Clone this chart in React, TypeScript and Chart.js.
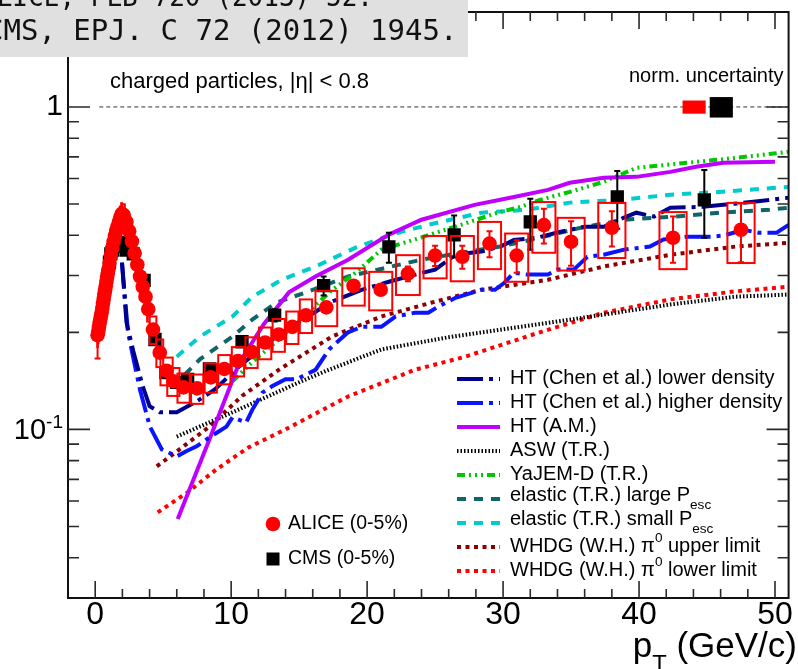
import React, { useEffect, useRef } from "react";
import { Chart, registerables } from "chart.js";

Chart.register(...registerables);

// ---------- axis ranges ----------
const X_MIN = -2;
const X_MAX = 51;
const Y_MIN = 0.03;
const Y_MAX = 1.97;

const xTickLabels = [0, 10, 20, 30, 40, 50];

// ---------- ALICE charged particles, 0-5% ----------
const alicePt = [
  0.175, 0.225, 0.275, 0.325, 0.375, 0.425, 0.475, 0.525, 0.575, 0.625, 0.675, 0.725, 0.775, 0.825, 0.875,
  0.925, 0.975, 1.05, 1.15, 1.25, 1.35, 1.45, 1.55, 1.65, 1.75, 1.85, 1.95, 2.1, 2.3, 2.5, 2.7, 2.9, 3.1,
  3.3, 3.5, 3.7, 3.9, 4.25, 4.75, 5.25, 5.75, 6.5, 7.5, 8.5, 9.5, 10.5, 11.5, 12.5, 13.5, 14.5, 15.5, 17,
  19, 21, 23, 25, 27, 29, 31, 33, 35, 38, 42.5, 47.5,
];
const aliceRaa = [
  0.196, 0.201, 0.207, 0.213, 0.219, 0.225, 0.231, 0.238, 0.246, 0.254, 0.262, 0.27, 0.278, 0.287, 0.296,
  0.305, 0.314, 0.328, 0.346, 0.364, 0.382, 0.398, 0.413, 0.426, 0.44, 0.455, 0.466, 0.462, 0.44, 0.412,
  0.383, 0.352, 0.324, 0.298, 0.277, 0.258, 0.236, 0.204, 0.173, 0.152, 0.141, 0.135, 0.134, 0.145, 0.154,
  0.163, 0.174, 0.186, 0.197, 0.208, 0.226, 0.239, 0.279, 0.271, 0.304, 0.346, 0.343, 0.377, 0.346, 0.43,
  0.382, 0.422, 0.393, 0.416,
];
const aliceStat = [
  0.03, 0.002, 0.002, 0.002, 0.002, 0.002, 0.002, 0.002, 0.002, 0.002, 0.002, 0.002, 0.002, 0.002, 0.002,
  0.002, 0.002, 0.002, 0.002, 0.002, 0.002, 0.002, 0.002, 0.002, 0.002, 0.002, 0.002, 0.002, 0.002, 0.002,
  0.002, 0.002, 0.002, 0.002, 0.002, 0.002, 0.002, 0.002, 0.002, 0.002, 0.002, 0.002, 0.002, 0.002, 0.002,
  0.003, 0.003, 0.004, 0.004, 0.004, 0.004, 0.005, 0.006, 0.007, 0.016, 0.025, 0.028, 0.035, 0.04, 0.053,
  0.06, 0.053, 0.064, 0.086,
];
const aliceSys = [
  0.016, 0.016, 0.017, 0.017, 0.018, 0.018, 0.018, 0.019, 0.02, 0.02, 0.021, 0.022, 0.022, 0.023, 0.024,
  0.024, 0.025, 0.026, 0.028, 0.029, 0.031, 0.032, 0.033, 0.034, 0.035, 0.036, 0.037, 0.037, 0.035, 0.033,
  0.031, 0.028, 0.026, 0.024, 0.022, 0.021, 0.02, 0.02, 0.017, 0.015, 0.014, 0.014, 0.014, 0.015, 0.016,
  0.017, 0.019, 0.021, 0.023, 0.024, 0.027, 0.03, 0.037, 0.037, 0.043, 0.052, 0.055, 0.063, 0.059, 0.077,
  0.071, 0.082, 0.079, 0.088,
];
// widths of the systematic boxes, in GeV/c
const aliceBoxWidth = [
  0.04, 0.04, 0.04, 0.04, 0.04, 0.04, 0.04, 0.04, 0.04, 0.04, 0.04, 0.04, 0.04, 0.04, 0.04, 0.04, 0.04,
  0.08, 0.08, 0.08, 0.08, 0.08, 0.08, 0.08, 0.08, 0.08, 0.08, 0.16, 0.16, 0.16, 0.16, 0.16, 0.16, 0.16,
  0.16, 0.16, 0.16, 0.5, 0.5, 0.9, 0.9, 0.9, 0.9, 0.9, 0.9, 0.9, 0.9, 0.9, 0.9, 0.9, 0.9, 1.6, 1.65, 1.7,
  1.75, 1.7, 1.7, 1.7, 1.7, 1.7, 2, 2, 2, 2,
];

// ---------- CMS charged particles, 0-5% ----------
const cmsPt = [
  1.05, 1.15, 1.3, 1.5, 1.7, 1.9, 2.1, 2.3, 2.8, 3.6, 4.4, 5.2, 6.0, 6.8, 8.4, 10.8, 13.2, 16.8, 21.6, 26.4,
  32.0, 38.4, 44.8,
];
const cmsRaa = [
  0.33, 0.35, 0.36, 0.37, 0.37, 0.38, 0.37, 0.36, 0.35, 0.29, 0.19, 0.15, 0.14, 0.143, 0.154, 0.187, 0.226,
  0.279, 0.368, 0.401, 0.44, 0.526, 0.515,
];
const cmsStat = [
  0.002, 0.002, 0.002, 0.002, 0.002, 0.002, 0.002, 0.002, 0.002, 0.002, 0.003, 0.003, 0.003, 0.003, 0.004,
  0.006, 0.01, 0.019, 0.039, 0.06, 0.079, 0.107, 0.122,
];

// relative normalisation uncertainties
const aliceNormUnc = 0.047;
const cmsNormUnc = 0.073;

// ---------- model curves ----------
const htLowPt = [
  1.97, 2.3, 2.8, 3.5, 4.0, 4.75, 6.0, 7.45, 8.8, 10.6, 13.5, 15.5, 17.4, 19.6, 21.6, 23, 25, 26.5, 28.4,
  29.8, 30.8, 32.5, 34, 36, 37.4, 38.9, 39.8, 41.1, 42.3, 44.7, 46.2, 48.4, 51,
];
const htLowRaa = [
  0.329, 0.215, 0.175, 0.136, 0.118, 0.113, 0.113, 0.122, 0.133, 0.157, 0.197, 0.222, 0.249, 0.271, 0.287,
  0.298, 0.313, 0.348, 0.356, 0.369, 0.387, 0.393, 0.408, 0.425, 0.425, 0.454, 0.47, 0.457, 0.487, 0.49,
  0.497, 0.508, 0.523,
];

const htHighPt = [
  1.97, 2.41, 3.29, 4.02, 4.9, 6.0, 6.73, 7.46, 8.19, 9.0, 9.65, 10.1, 11.1, 11.55, 12.3, 13.0, 14.0, 14.8,
  16.2, 17.2, 18.6, 19.6, 21.05, 22.1, 23.5, 24.5, 25.2, 26.5, 28.4, 29.4, 30.1, 30.8, 31.8, 33.3, 34.0,
  35.2, 36.2, 37.4, 38.9, 40.8, 41.8, 43.5, 45.2, 46.2, 47.7, 48.8, 50.1, 51,
];
const htHighRaa = [
  0.329, 0.2, 0.133, 0.102, 0.0867, 0.0825, 0.0857, 0.0886, 0.0931, 0.098, 0.102, 0.109, 0.105, 0.115, 0.13,
  0.136, 0.143, 0.143, 0.153, 0.177, 0.2, 0.208, 0.208, 0.224, 0.23, 0.23, 0.24, 0.256, 0.271, 0.271, 0.285,
  0.306, 0.302, 0.302, 0.313, 0.313, 0.343, 0.348, 0.361, 0.369, 0.388, 0.396, 0.396, 0.399, 0.416, 0.407,
  0.407, 0.431,
];

const htAmPt = [6.07, 8.4, 10.6, 12.4, 14.25, 16.2, 18.6, 21.6, 24.0, 27.9, 30.8, 33.3, 34.9, 37.4, 39.8, 42.3, 44.2, 46.2, 50];
const htAmRaa = [
  0.0527, 0.0931, 0.161, 0.212, 0.266, 0.298, 0.336, 0.402, 0.447, 0.497, 0.526, 0.553, 0.582, 0.603, 0.607,
  0.629, 0.652, 0.671, 0.676,
];

const aswPt = [6.0, 10.1, 15.0, 17.0, 21.05, 25.95, 33.3, 37.4, 42.3, 47.1, 51];
const aswRaa = [0.095, 0.113, 0.14, 0.152, 0.177, 0.193, 0.214, 0.227, 0.244, 0.258, 0.262];

const yajemPt = [10.1, 11.5, 13.5, 17.4, 19.15, 21.05, 23.5, 26.9, 29.6, 31.3, 32.7, 34.9, 37.4, 39.8, 43.5, 47.1, 51];
const yajemRaa = [
  0.141, 0.161, 0.19, 0.27, 0.306, 0.361, 0.388, 0.431, 0.47, 0.49, 0.515, 0.545, 0.586, 0.647, 0.671, 0.695,
  0.726,
];

const elLargePt = [6.6, 7.7, 8.9, 10.1, 11.55, 13.3, 15.7, 18.6, 21.8, 24.0, 26.9, 29.8, 32.7, 35.7, 38.9, 42.3, 45.9, 49.6, 51];
const elLargeRaa = [
  0.148, 0.165, 0.179, 0.194, 0.219, 0.247, 0.268, 0.298, 0.32, 0.336, 0.353, 0.369, 0.393, 0.422, 0.447,
  0.456, 0.47, 0.48, 0.487,
];

const elSmallPt = [6.0, 7.7, 10.1, 11.55, 13.7, 16.2, 19.15, 21.8, 24.5, 28.4, 31.8, 34.9, 38.6, 42.3, 45.9, 51];
const elSmallRaa = [0.168, 0.194, 0.224, 0.258, 0.291, 0.32, 0.366, 0.402, 0.431, 0.47, 0.48, 0.505, 0.515, 0.534, 0.545, 0.565];

const whdgUpPt = [4.53, 6.2, 8.4, 10.8, 13.5, 17.4, 21.05, 24.7, 28.4, 33.3, 37.4, 42.3, 47.1, 51];
const whdgUpRaa = [0.0768, 0.0867, 0.102, 0.127, 0.153, 0.194, 0.224, 0.247, 0.271, 0.291, 0.32, 0.348, 0.369, 0.379];

const whdgLowPt = [4.6, 6.8, 8.9, 11.3, 14.0, 18.6, 23.5, 27.2, 32.7, 37.4, 42.3, 47.1, 51];
const whdgLowRaa = [0.0553, 0.0638, 0.0751, 0.088, 0.1, 0.1265, 0.153, 0.168, 0.2, 0.23, 0.253, 0.268, 0.277];

// ---------- styling ----------
type Part = { t: string; sub?: boolean; sup?: boolean };

const FONT = '"Liberation Sans", Arial, Helvetica, sans-serif';
const ALICE_RED = "#ff0000";

const models: {
  parts: Part[];
  pt: number[];
  raa: number[];
  color: string;
  dash: number[];
  width: number;
  textShift: number;
}[] = [
  { parts: [{ t: "HT (Chen et al.) lower density" }], pt: htLowPt, raa: htLowRaa, color: "#00008f", dash: [26, 6, 4, 6], width: 4, textShift: 0 },
  { parts: [{ t: "HT (Chen et al.) higher density" }], pt: htHighPt, raa: htHighRaa, color: "#0a14ff", dash: [26, 6, 4, 6], width: 4, textShift: 0 },
  { parts: [{ t: "HT (A.M.)" }], pt: htAmPt, raa: htAmRaa, color: "#c000ff", dash: [], width: 4, textShift: 0 },
  { parts: [{ t: "ASW (T.R.)" }], pt: aswPt, raa: aswRaa, color: "#000000", dash: [1.5, 2], width: 4, textShift: 0 },
  { parts: [{ t: "YaJEM-D (T.R.)" }], pt: yajemPt, raa: yajemRaa, color: "#00c800", dash: [8, 4, 2, 4, 2, 4, 2, 4], width: 4, textShift: 0 },
  { parts: [{ t: "elastic (T.R.) large P" }, { t: "esc", sub: true }], pt: elLargePt, raa: elLargeRaa, color: "#0f6666", dash: [9, 8], width: 4, textShift: -3 },
  { parts: [{ t: "elastic (T.R.) small P" }, { t: "esc", sub: true }], pt: elSmallPt, raa: elSmallRaa, color: "#00cccc", dash: [9, 8], width: 4, textShift: -3 },
  { parts: [{ t: "WHDG (W.H.) \u03c0" }, { t: "0", sup: true }, { t: " upper limit" }], pt: whdgUpPt, raa: whdgUpRaa, color: "#8c0000", dash: [4, 4.5], width: 4, textShift: 0 },
  { parts: [{ t: "WHDG (W.H.) \u03c0" }, { t: "0", sup: true }, { t: " lower limit" }], pt: whdgLowPt, raa: whdgLowRaa, color: "#ff0000", dash: [4, 4.5], width: 4, textShift: 0 },
];

const ALICE_INDEX = 0;
const CMS_INDEX = 1;

function toPoints(xs: number[], ys: number[]) {
  return xs.map((x, i) => ({ x, y: ys[i] }));
}

function drawParts(ctx: CanvasRenderingContext2D, parts: Part[], x: number, y: number, size: number) {
  let cx = x;
  ctx.textAlign = "left";
  ctx.textBaseline = "middle";
  for (const p of parts) {
    const s = p.sub || p.sup ? size * 0.68 : size;
    const dy = p.sub ? size * 0.52 : p.sup ? -size * 0.38 : 0;
    ctx.font = `${s}px ${FONT}`;
    ctx.fillText(p.t, cx, y + dy);
    cx += ctx.measureText(p.t).width;
  }
}

function errorBar(ctx: CanvasRenderingContext2D, x: number, yLo: number, yHi: number, cap: number) {
  ctx.beginPath();
  ctx.moveTo(x, yLo);
  ctx.lineTo(x, yHi);
  ctx.moveTo(x - cap, yLo);
  ctx.lineTo(x + cap, yLo);
  ctx.moveTo(x - cap, yHi);
  ctx.lineTo(x + cap, yHi);
  ctx.stroke();
}

const rootStylePlugin = {
  id: "rootStyle",
  beforeDatasetsDraw(chart: any) {
    const { ctx, scales } = chart;
    const xs = scales.x;
    const ys = scales.y;
    // reference line at R_AA = 1
    ctx.save();
    ctx.strokeStyle = "#333";
    ctx.lineWidth = 1;
    ctx.setLineDash([4, 3]);
    ctx.beginPath();
    ctx.moveTo(xs.getPixelForValue(0.3), ys.getPixelForValue(1));
    ctx.lineTo(xs.getPixelForValue(X_MAX), ys.getPixelForValue(1));
    ctx.stroke();
    ctx.restore();
  },
  beforeDatasetDraw(chart: any, args: any) {
    const { ctx, scales } = chart;
    const xs = scales.x;
    const ys = scales.y;
    ctx.save();
    if (args.index === ALICE_INDEX) {
      ctx.strokeStyle = ALICE_RED;
      ctx.lineWidth = 2;
      alicePt.forEach((pt, i) => {
        const v = aliceRaa[i];
        const x0 = xs.getPixelForValue(pt - aliceBoxWidth[i] / 2);
        const x1 = xs.getPixelForValue(pt + aliceBoxWidth[i] / 2);
        const y0 = ys.getPixelForValue(v + aliceSys[i]);
        const y1 = ys.getPixelForValue(v - aliceSys[i]);
        ctx.strokeRect(x0, y0, x1 - x0, y1 - y0);
      });
      alicePt.forEach((pt, i) => {
        const v = aliceRaa[i];
        errorBar(ctx, xs.getPixelForValue(pt), ys.getPixelForValue(v - aliceStat[i]), ys.getPixelForValue(v + aliceStat[i]), 3);
      });
    } else if (args.index === CMS_INDEX) {
      ctx.strokeStyle = "#000";
      ctx.lineWidth = 2;
      cmsPt.forEach((pt, i) => {
        const v = cmsRaa[i];
        errorBar(ctx, xs.getPixelForValue(pt), ys.getPixelForValue(v - cmsStat[i]), ys.getPixelForValue(v + cmsStat[i]), 3);
      });
    }
    ctx.restore();
  },
  afterDraw(chart: any) {
    const { ctx, scales, chartArea } = chart;
    const xs = scales.x;
    const ys = scales.y;
    const { left, right, top, bottom } = chartArea;
    ctx.save();

    // frame
    ctx.strokeStyle = "#111";
    ctx.lineWidth = 2;
    ctx.strokeRect(left, top, right - left, bottom - top);

    // ticks pointing inward on all four sides
    ctx.strokeStyle = "#2a2a2a";
    ctx.lineWidth = 1.6;
    ctx.beginPath();
    for (let v = 0; v <= X_MAX; v += 2) {
      const x = xs.getPixelForValue(v);
      const len = v % 10 === 0 ? 17 : 9;
      ctx.moveTo(x, bottom);
      ctx.lineTo(x, bottom - len);
      ctx.moveTo(x, top);
      ctx.lineTo(x, top + len);
    }
    for (let d = -2; d <= 0; d++) {
      for (let m = 1; m <= 9; m++) {
        const v = m * Math.pow(10, d);
        if (v <= Y_MIN * 1.001 || v >= Y_MAX) continue;
        const y = ys.getPixelForValue(v);
        const len = m === 1 ? 22 : 11;
        ctx.moveTo(left, y);
        ctx.lineTo(left + len, y);
        ctx.moveTo(right, y);
        ctx.lineTo(right - len, y);
      }
    }
    ctx.stroke();

    // tick labels
    ctx.fillStyle = "#000";
    ctx.textBaseline = "middle";
    ctx.textAlign = "center";
    ctx.font = `32px ${FONT}`;
    xTickLabels.forEach((v) => {
      ctx.fillText(String(v), xs.getPixelForValue(v), 615);
    });
    ctx.textAlign = "right";
    ctx.font = `30px ${FONT}`;
    ctx.fillText("1", 63, ys.getPixelForValue(1));
    {
      const yT = ys.getPixelForValue(0.1);
      ctx.font = `29px ${FONT}`;
      const wBase = ctx.measureText("10").width;
      ctx.font = `19px ${FONT}`;
      const wExp = ctx.measureText("-1").width;
      const x0 = 63 - wBase - wExp;
      ctx.textAlign = "left";
      ctx.font = `29px ${FONT}`;
      ctx.fillText("10", x0, yT + 2);
      ctx.font = `19px ${FONT}`;
      ctx.fillText("-1", x0 + wBase, yT - 7);
    }

    // axis title
    {
      ctx.textAlign = "left";
      const size = 35;
      ctx.font = `${size}px ${FONT}`;
      const wp = ctx.measureText("p").width;
      ctx.font = `${size * 0.68}px ${FONT}`;
      const wt = ctx.measureText("T").width;
      ctx.font = `${size}px ${FONT}`;
      const wr = ctx.measureText(" (GeV/c)").width;
      const x0 = 797 - wp - wt - wr;
      drawParts(ctx, [{ t: "p" }, { t: "T", sub: true }, { t: " (GeV/c)" }], x0, 647, size);
    }

    // annotations
    ctx.fillStyle = "#000";
    ctx.textAlign = "left";
    ctx.textBaseline = "middle";
    ctx.font = `22px ${FONT}`;
    ctx.fillText("charged particles, |\u03b7| < 0.8", 110, 82);
    ctx.font = `20px ${FONT}`;
    ctx.fillText("norm. uncertainty", 629, 76);

    // normalisation uncertainty boxes at R_AA = 1
    {
      const y = (r: number) => ys.getPixelForValue(r);
      ctx.fillStyle = ALICE_RED;
      const ax0 = xs.getPixelForValue(43.2);
      const ax1 = xs.getPixelForValue(44.9);
      ctx.fillRect(ax0, y(1 + aliceNormUnc), ax1 - ax0, y(1 - aliceNormUnc) - y(1 + aliceNormUnc));
      ctx.fillStyle = "#000";
      const cx0 = xs.getPixelForValue(45.2);
      const cx1 = xs.getPixelForValue(46.9);
      ctx.fillRect(cx0, y(1 + cmsNormUnc), cx1 - cx0, y(1 - cmsNormUnc) - y(1 + cmsNormUnc));
    }

    // model legend
    models.forEach((m, i) => {
      const y = 379 + 24 * i;
      ctx.save();
      ctx.strokeStyle = m.color;
      ctx.lineWidth = m.width;
      ctx.setLineDash(m.dash);
      ctx.beginPath();
      ctx.moveTo(457, y);
      ctx.lineTo(500, y);
      ctx.stroke();
      ctx.restore();
      ctx.fillStyle = "#000";
      drawParts(ctx, m.parts, 510, y - 1 + m.textShift, 20);
    });

    // data legend
    ctx.fillStyle = ALICE_RED;
    ctx.beginPath();
    ctx.arc(273, 524, 7.3, 0, Math.PI * 2);
    ctx.fill();
    ctx.fillStyle = "#000";
    ctx.fillRect(266.5, 552.5, 13, 13);
    ctx.font = `19.5px ${FONT}`;
    ctx.textAlign = "left";
    ctx.textBaseline = "middle";
    ctx.fillText("ALICE (0-5%)", 288, 524);
    ctx.fillText("CMS (0-5%)", 288, 559);

    // reference box in the top-left corner
    ctx.fillStyle = "#e0e0e0";
    ctx.fillRect(0, 0, 468, 57);
    ctx.save();
    ctx.beginPath();
    ctx.rect(0, 0, 468, 57);
    ctx.clip();
    ctx.fillStyle = "#111";
    ctx.textBaseline = "alphabetic";
    ctx.font = `29px "DejaVu Sans Mono", monospace`;
    ctx.fillText("ALICE, PLB 720 (2013) 52.", -19, 6, 392);
    ctx.fillText("CMS, EPJ. C 72 (2012) 1945.", -14, 40);
    ctx.restore();

    ctx.restore();
  },
};

export default function App() {
  const canvasRef = useRef<HTMLCanvasElement>(null);

  useEffect(() => {
    const canvas = canvasRef.current;
    if (!canvas) return;

    const datasets: any[] = [
      {
        label: "ALICE (0-5%)",
        data: toPoints(alicePt, aliceRaa),
        pointStyle: "circle",
        pointRadius: 7.3,
        pointBackgroundColor: ALICE_RED,
        pointBorderColor: ALICE_RED,
        pointBorderWidth: 0,
        showLine: false,
      },
      {
        label: "CMS (0-5%)",
        data: toPoints(cmsPt, cmsRaa),
        pointStyle: "rect",
        pointRadius: 9.4,
        pointBackgroundColor: "#000",
        pointBorderColor: "#000",
        pointBorderWidth: 0,
        showLine: false,
      },
      ...models.map((m) => ({
        label: m.parts.map((p) => p.t).join(""),
        data: toPoints(m.pt, m.raa),
        showLine: true,
        borderColor: m.color,
        borderWidth: m.width,
        borderDash: m.dash,
        borderCapStyle: "butt",
        borderJoinStyle: "miter",
        tension: 0,
        pointRadius: 0,
        fill: false,
      })),
    ];

    const chart = new Chart(canvas, {
      type: "scatter",
      data: { datasets },
      options: {
        responsive: false,
        animation: false,
        events: [],
        layout: { padding: { left: 68, top: 12, right: 6, bottom: 71 } },
        plugins: { legend: { display: false }, tooltip: { enabled: false } },
        scales: {
          x: { type: "linear", min: X_MIN, max: X_MAX, display: false },
          y: { type: "logarithmic", min: Y_MIN, max: Y_MAX, display: false },
        },
      },
      plugins: [rootStylePlugin],
    } as any);

    return () => chart.destroy();
  }, []);

  return (
    <div style={{ position: "absolute", left: 0, top: 0, width: 798, height: 669, background: "#fff" }}>
      <canvas ref={canvasRef} width={798} height={669} style={{ display: "block", width: 798, height: 669 }} />
    </div>
  );
}
